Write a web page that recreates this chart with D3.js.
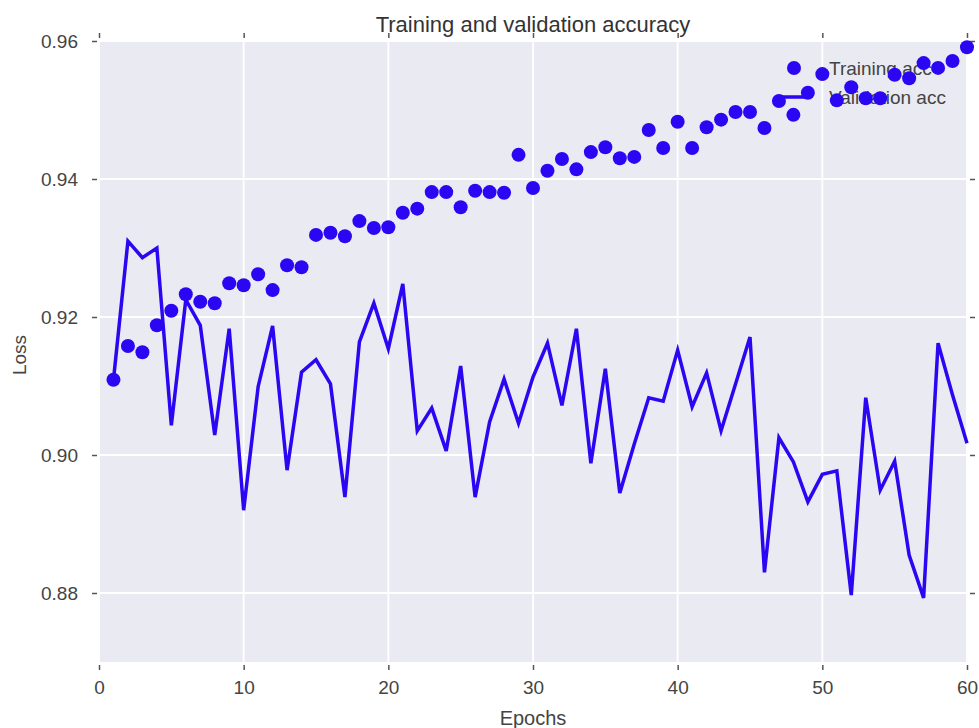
<!DOCTYPE html>
<html>
<head>
<meta charset="utf-8">
<script src="https://cdn.jsdelivr.net/npm/d3@7"></script>
<style>
  html, body { margin: 0; padding: 0; background: #ffffff; }
  svg { display: block; }
  text { font-family: "Liberation Sans", Arial, sans-serif; }
</style>
</head>
<body>
<svg id="chart" width="979" height="728"></svg>
<script>
// ---- data ----
const epochs = d3.range(1, 61);
const trainingAcc = [
  0.9109, 0.9158, 0.9149, 0.9188, 0.9209, 0.9233, 0.9222, 0.9220, 0.9249, 0.9246,
  0.9262, 0.9239, 0.9275, 0.9272, 0.9319, 0.9322, 0.9317, 0.9339, 0.9329, 0.9330,
  0.9351, 0.9357, 0.9381, 0.9381, 0.9359, 0.9383, 0.9381, 0.9380, 0.9435, 0.9387,
  0.9412, 0.9429, 0.9414, 0.9439, 0.9446, 0.9430, 0.9432, 0.9471, 0.9445, 0.9483,
  0.9445, 0.9475, 0.9486, 0.9497, 0.9497, 0.9474, 0.9513, 0.9493, 0.9525, 0.9552,
  0.9514, 0.9533, 0.9517, 0.9517, 0.9551, 0.9546, 0.9568, 0.9561, 0.9571, 0.9591
];
const validationAcc = [
  0.9109, 0.9310, 0.9286, 0.9300, 0.9043, 0.9225, 0.9188, 0.9029, 0.9183, 0.8920,
  0.9099, 0.9187, 0.8978, 0.9120, 0.9138, 0.9103, 0.8939, 0.9164, 0.9220, 0.9154,
  0.9248, 0.9035, 0.9068, 0.9006, 0.9129, 0.8939, 0.9048, 0.9110, 0.9046, 0.9113,
  0.9162, 0.9072, 0.9183, 0.8988, 0.9125, 0.8945, 0.9016, 0.9083, 0.9078, 0.9152,
  0.9070, 0.9119, 0.9035, 0.9103, 0.9171, 0.8830, 0.9025, 0.8990, 0.8932, 0.8972,
  0.8977, 0.8797, 0.9083, 0.8949, 0.8991, 0.8855, 0.8793, 0.9162, 0.9087, 0.9017
];
const xTicks = [0, 10, 20, 30, 40, 50, 60];
const yTicks = [0.88, 0.90, 0.92, 0.94, 0.96];
const titleText = "Training and validation accuracy";
const xLabel = "Epochs";
const yLabel = "Loss";
const legendLabels = ["Training acc", "Validation acc"];

// ---- layout ----
const svg = d3.select("#chart");
const pL = 99, pR = 967, pT = 41, pB = 662;
const x = d3.scaleLinear().domain([0, 60]).range([pL, pR]);
const y = d3.scaleLinear().domain([0.87, 0.96]).range([pB, pT]);
const blue = "#2a06f2";
const tickColor = "#555555";
const labelColor = "#444444";

// background
svg.append("rect")
  .attr("x", pL).attr("y", pT)
  .attr("width", pR - pL).attr("height", pB - pT)
  .attr("fill", "#eaeaf2");

// grid
const grid = svg.append("g");
grid.selectAll("line.gx").data(xTicks).join("line")
  .attr("class", "gx")
  .attr("x1", d => x(d)).attr("x2", d => x(d))
  .attr("y1", pT).attr("y2", pB)
  .attr("stroke", "#ffffff").attr("stroke-width", 1.8);
grid.selectAll("line.gy").data(yTicks).join("line")
  .attr("class", "gy")
  .attr("x1", pL).attr("x2", pR)
  .attr("y1", d => y(d)).attr("y2", d => y(d))
  .attr("stroke", "#ffffff").attr("stroke-width", 1.8);

// axes
const fs = "19px";
const bottomAxis = svg.append("g")
  .attr("transform", `translate(0,${pB + 3})`)
  .call(d3.axisBottom(x).tickValues(xTicks).tickFormat(d3.format("d")).tickSize(5).tickPadding(11));
const leftAxis = svg.append("g")
  .attr("transform", `translate(${pL - 2},0)`)
  .call(d3.axisLeft(y).tickValues(yTicks).tickFormat(d3.format(".2f")).tickSize(5).tickPadding(14));
const topAxis = svg.append("g")
  .attr("transform", `translate(0,${pT - 3})`)
  .call(d3.axisTop(x).tickValues(xTicks).tickFormat("").tickSize(5));
const rightAxis = svg.append("g")
  .attr("transform", `translate(${pR + 3},0)`)
  .call(d3.axisRight(y).tickValues(yTicks).tickFormat("").tickSize(5));
[bottomAxis, leftAxis, topAxis, rightAxis].forEach(g => {
  g.select(".domain").remove();
  g.selectAll(".tick line").attr("stroke", tickColor).attr("stroke-width", 1.5);
  g.selectAll(".tick text").attr("fill", labelColor).style("font-size", fs)
    .style("font-family", '"Liberation Sans", Arial, sans-serif');
});

// title and axis labels
svg.append("text")
  .attr("x", (pL + pR) / 2).attr("y", 32)
  .attr("text-anchor", "middle")
  .attr("fill", "#333333").style("font-size", "22px")
  .text(titleText);
svg.append("text")
  .attr("x", (pL + pR) / 2).attr("y", 725)
  .attr("text-anchor", "middle")
  .attr("fill", "#444444").style("font-size", "20px")
  .text(xLabel);
svg.append("text")
  .attr("transform", `translate(26,355) rotate(-90)`)
  .attr("text-anchor", "middle")
  .attr("fill", "#444444").style("font-size", "19px")
  .text(yLabel);

// legend (drawn beneath data as in the reference)
const legend = svg.append("g");
legend.append("circle").attr("cx", 794).attr("cy", 68).attr("r", 7).attr("fill", blue);
legend.append("line").attr("x1", 780).attr("x2", 808).attr("y1", 97).attr("y2", 97)
  .attr("stroke", blue).attr("stroke-width", 3.5);
legend.selectAll("text").data(legendLabels).join("text")
  .attr("x", 829).attr("y", (d, i) => 68 + i * 29)
  .attr("dy", "0.35em")
  .attr("fill", "#444444").style("font-size", "19px")
  .text(d => d);

// validation line
const line = d3.line().x((d, i) => x(epochs[i])).y(d => y(d));
svg.append("path")
  .datum(validationAcc)
  .attr("d", line)
  .attr("fill", "none")
  .attr("stroke", blue)
  .attr("stroke-width", 3.5)
  .attr("stroke-linejoin", "miter");

// training dots
svg.append("g").selectAll("circle").data(trainingAcc).join("circle")
  .attr("cx", (d, i) => x(epochs[i]))
  .attr("cy", d => y(d))
  .attr("r", 7)
  .attr("fill", blue);
</script>
</body>
</html>
